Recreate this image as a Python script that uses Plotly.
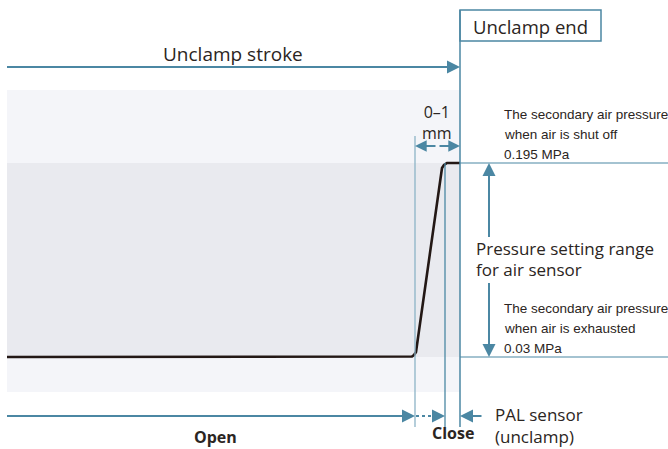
import plotly.graph_objects as go

# ---- data (schematic coordinates, x = stroke position, y = pressure level, screen-like units) ----
curve_x = [7, 409, 412, 414, 416, 442, 444, 447, 460]
curve_y = [357, 357, 356.5, 355, 352, 168, 165, 163, 163]

band_outer = [7, 460, 90, 392]     # x0, x1, y0, y1
band_inner = [7, 460, 163, 357]

level_high = 163   # 0.195 MPa
level_low = 357    # 0.03 MPa
x_sensor_start = 415
x_close = 445
x_end = 460

labels_top = ["Unclamp stroke", "Unclamp end", "0–1<br>mm"]
label_shut = ["The secondary air pressure", "when air is shut off", "0.195 MPa"]
label_exh = ["The secondary air pressure", "when air is exhausted", "0.03 MPa"]
label_range = ["Pressure setting range", "for air sensor"]
label_pal = ["PAL sensor", "(unclamp)"]
label_open = "Open"
label_close = "Close"

BLUE = "#4b87a3"
LBLUE = "#8db3c6"
TXT = "#2b2522"
FONT = "Open Sans, Noto Sans, sans-serif"
NARROW = "Liberation Sans, Arial, sans-serif"

fig = go.Figure()

shapes = []
shapes.append(dict(type="rect", x0=band_outer[0], x1=band_outer[1], y0=band_outer[2], y1=band_outer[3],
                   fillcolor="#f4f5f9", line=dict(width=0), layer="below"))
shapes.append(dict(type="rect", x0=band_inner[0], x1=band_inner[1], y0=band_inner[2], y1=band_inner[3],
                   fillcolor="#e9eaef", line=dict(width=0), layer="below"))
shapes.append(dict(type="line", x0=x_sensor_start, x1=x_sensor_start, y0=136, y1=427, line=dict(color=LBLUE, width=1.3)))
shapes.append(dict(type="line", x0=x_close, x1=x_close, y0=163, y1=427, line=dict(color=BLUE, width=1.3)))
shapes.append(dict(type="line", x0=x_end, x1=x_end, y0=10, y1=427, line=dict(color=BLUE, width=1.5)))
shapes.append(dict(type="rect", x0=x_end, x1=601, y0=10, y1=41, line=dict(color=BLUE, width=1.5), fillcolor="rgba(0,0,0,0)"))
shapes.append(dict(type="line", x0=x_end, x1=668, y0=level_high, y1=level_high, line=dict(color=BLUE, width=1.2)))
shapes.append(dict(type="line", x0=x_end, x1=668, y0=level_low, y1=level_low, line=dict(color=BLUE, width=1.2)))
shapes.append(dict(type="line", x0=7, x1=452, y0=67, y1=67, line=dict(color=BLUE, width=2.2)))
shapes.append(dict(type="line", x0=7, x1=406, y0=416, y1=416, line=dict(color=BLUE, width=2.2)))
shapes.append(dict(type="line", x0=416, x1=437, y0=416, y1=416, line=dict(color=BLUE, width=2.2, dash="dot")))
shapes.append(dict(type="line", x0=489, x1=489, y0=172, y1=237, line=dict(color=BLUE, width=2)))
shapes.append(dict(type="line", x0=489, x1=489, y0=283, y1=348, line=dict(color=BLUE, width=2)))

fig.add_trace(go.Scatter(x=curve_x, y=curve_y, mode="lines", line=dict(color="#231815", width=2.6),
                         hoverinfo="skip", showlegend=False))

ann = []
def arrow(xh, yh, xt, yt, w=2):
    ann.append(dict(x=xh, y=yh, ax=xt, ay=yt, xref="x", yref="y", axref="x", ayref="y", text="",
                    showarrow=True, arrowhead=2, arrowsize=1.3, arrowwidth=w, arrowcolor=BLUE, standoff=0))

arrow(x_end, 67, 440, 67)
arrow(x_sensor_start, 416, 395, 416)
arrow(x_close, 416, 432, 416)
arrow(x_end, 416, 483, 416)
arrow(x_sensor_start, 146, 437, 146, 1.8)
arrow(x_end, 146, 438, 146, 1.8)
arrow(489, level_high, 489, 185)
arrow(489, level_low, 489, 335)

def text(x, y, t, size=17, font=FONT, xanchor="left", align="left", color=TXT, bold=False):
    ann.append(dict(x=x, y=y, xref="x", yref="y", text=("<b>%s</b>" % t) if bold else t, showarrow=False,
                    xanchor=xanchor, yanchor="middle", align=align,
                    font=dict(family=font, size=size, color=color)))

text(233, 54, labels_top[0], size=19, xanchor="center")
text(471, 26, labels_top[1], size=18.5)
text(437, 122, labels_top[2], size=16, xanchor="center", align="center")
for i, s in enumerate(label_shut):
    text(502, 114 + 20 * i, s, size=13.5, font=NARROW)
for i, s in enumerate(label_range):
    text(474, 248 + 21 * i, s)
for i, s in enumerate(label_exh):
    text(502, 308 + 20 * i, s, size=13.5, font=NARROW)
for i, s in enumerate(label_pal):
    text(493, 414 + 22 * i, s)
text(215, 437, label_open, size=16, xanchor="center", bold=True)
text(453, 433, label_close, size=16, xanchor="center", bold=True)

fig.update_layout(
    width=668, height=449, margin=dict(l=0, r=0, t=0, b=0),
    paper_bgcolor="white", plot_bgcolor="white",
    xaxis=dict(range=[0, 668], visible=False, fixedrange=True),
    yaxis=dict(range=[449, 0], visible=False, fixedrange=True),
    shapes=shapes, annotations=ann, showlegend=False,
)

fig.write_html("out.html", config={"displayModeBar": False},
               post_script="document.body.style.margin='0px';document.body.style.overflow='hidden';")
